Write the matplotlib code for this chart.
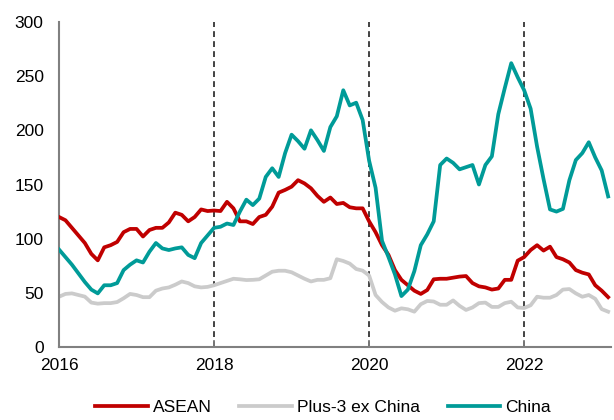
import numpy as np
import matplotlib.pyplot as plt

plt.rcParams['font.family'] = ['Liberation Sans', 'DejaVu Sans']

# monthly index values, Jan 2016 - Feb 2023
asean = [120, 117, 110, 103, 96, 86, 80, 92, 94, 97,
         106, 109, 109, 102, 108, 110, 110, 115, 124, 122,
         116, 120, 127, 125.5, 126, 125.5, 134, 128, 116, 116,
         113.5, 120, 122, 129.5, 142.5, 145, 148, 154, 151, 146.5,
         139.5, 134, 138, 132, 133, 129, 128, 128, 116, 106,
         94, 85, 71, 62, 57, 52, 49, 52.6, 62.5, 63,
         63, 64, 65, 65.5, 59, 56, 55, 53, 54, 62,
         62, 79.7, 83, 89.5, 94, 89, 92.6, 83, 81, 78,
         71, 68.6, 67, 57, 52, 46]

plus3 = [46.4, 49, 49.5, 48, 46.5, 41, 40, 40.5, 40.5, 41.5,
         45, 49, 48, 46, 46, 52, 54, 55, 57.5, 60.5,
         59, 56, 55, 55.5, 57, 59, 61, 63, 62.5, 61.8,
         62, 62.5, 66, 69.5, 70.4, 70.4, 69, 66, 63, 60.5,
         62, 62, 63.5, 81, 79.4, 77, 72, 70.5, 66, 48,
         41.5, 36.5, 33.5, 35.7, 34.8, 32.6, 39.5, 42.5, 42, 39,
         39, 43, 38, 34.2, 36.5, 40.5, 41, 37, 37, 40.5,
         41.8, 36.5, 36, 38.5, 46.4, 45.5, 45.5, 48, 53, 53.5,
         49.5, 46.4, 48, 44.5, 35, 32.6]

china = [90, 83, 76, 68, 60, 53, 49.5, 57, 57, 59,
         71, 76, 80, 78, 88, 96, 91, 89.5, 91, 92,
         85, 82, 96, 103, 110, 111, 114, 112.6, 125, 136,
         131, 137, 157, 165, 157, 179, 196, 190, 183, 200,
         191, 181, 203, 213, 237, 223, 225.5, 209.5, 172, 147,
         98, 83, 67, 47, 53, 70, 94, 104, 116, 168,
         174, 170, 164, 166, 168, 150, 168, 176, 215, 239,
         262, 249, 237, 220, 185, 155, 127, 125, 127.5, 154,
         172.6, 179, 189, 175, 163, 139]

years = 2016 + np.arange(len(asean)) / 12
year_ticks = [2016, 2018, 2020, 2022]
marker_years = [2018, 2020, 2022]

fig = plt.figure(figsize=(6.14, 4.2), dpi=100)
ax = fig.add_axes([0.0961, 0.1738, 0.899, 0.7738])

for yr in marker_years:
    ax.axvline(yr, color='#222222', lw=1.2, linestyle=(0, (3.5, 2.5)), zorder=1)

ax.plot(years, asean, color='#C00000', lw=2.7, label='ASEAN', zorder=3)
ax.plot(years, plus3, color='#CBCBCB', lw=2.7, label='Plus-3 ex China', zorder=2)
ax.plot(years, china, color='#009B98', lw=2.7, label='China', zorder=4)

ax.set_xlim(2016, 2023.12)
ax.set_ylim(0, 300)
ax.set_yticks(np.arange(0, 301, 50))
ax.set_xticks(year_ticks)
ax.set_xticklabels([str(y) for y in year_ticks])

for s in ['top', 'right']:
    ax.spines[s].set_visible(False)
for s in ['left', 'bottom']:
    ax.spines[s].set_color('#808080')
    ax.spines[s].set_linewidth(1.5)

ax.tick_params(axis='y', length=0, pad=11, labelsize=12.5)
ax.tick_params(axis='x', direction='in', length=5, width=1.2, color='#808080', pad=8, labelsize=12.5)

fig.legend(loc='center', bbox_to_anchor=(0.526, 0.029), ncol=3, frameon=False,
           fontsize=12.5, handlelength=3.0, handletextpad=0.3, columnspacing=1.6)

fig.savefig('out.png', dpi=100)
